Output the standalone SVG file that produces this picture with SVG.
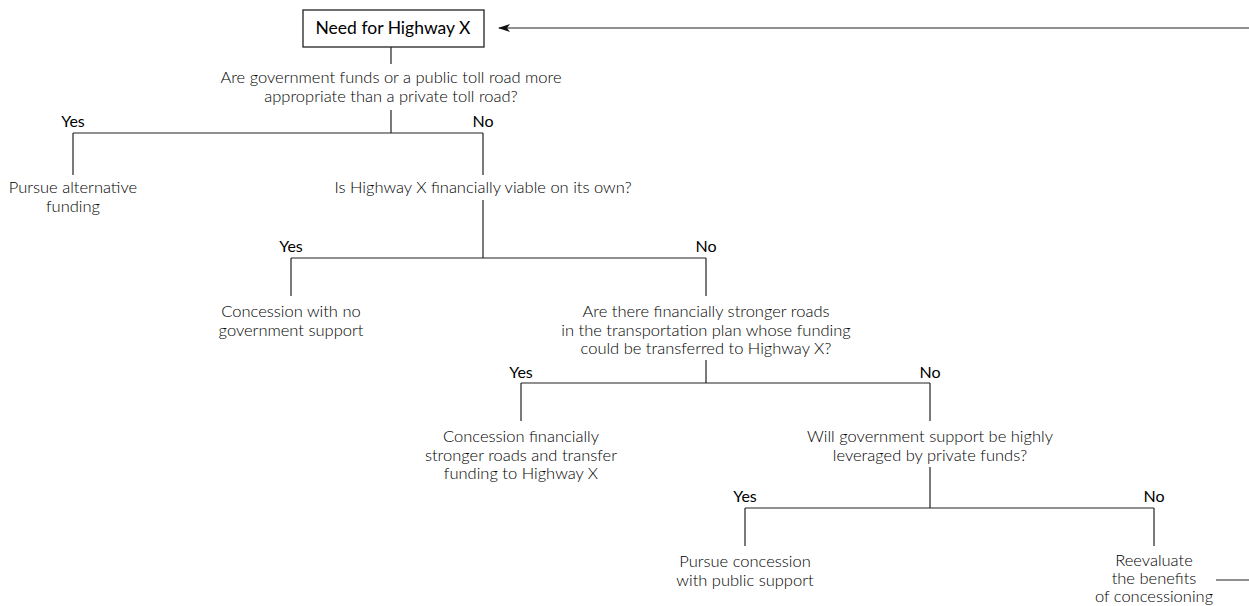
<svg xmlns="http://www.w3.org/2000/svg" width="1249" height="606" viewBox="0 0 1249 606">
<defs>
<marker id="arr" viewBox="0 0 12 10" refX="11" refY="5" markerWidth="12" markerHeight="10" markerUnits="userSpaceOnUse" orient="auto">
<path d="M0,1 L12,5 L0,9 L3,5 Z" fill="#111"/>
</marker>
<style>
.t{font-family:Lato,"Open Sans","Liberation Sans",sans-serif;font-weight:300;font-size:16.5px;fill:#000;text-anchor:middle}
.l{font-family:Lato,"Open Sans","Liberation Sans",sans-serif;font-weight:400;font-size:16px;fill:#000;text-anchor:middle}
.c{stroke:#222;stroke-width:1.2;fill:none}
.b{font-family:Lato,"Open Sans","Liberation Sans",sans-serif;font-weight:400;font-size:17.5px;fill:#000;text-anchor:middle}
</style>
</defs>
<rect width="1249" height="606" fill="#fff"/>
<g id="connectors">
<path class="c" d="M391,47 V64 M391,110 V133 M73,133 H483 M73,133 V175 M483,133 V175"/>
<path class="c" d="M483,200 V258 M291,258 H706 M291,258 V296 M706,258 V296"/>
<path class="c" d="M706,360 V383 M521,383 H930 M521,383 V421 M930,383 V421"/>
<path class="c" d="M930,467 V508 M745,508 H1154 M745,508 V546 M1154,508 V546"/>
<path class="c" d="M1216,580 H1249"/>
<path class="c" d="M1249,28 H499" marker-end="url(#arr)"/>
</g>
<g id="need">
<rect x="303" y="10" width="181" height="37" fill="#fff" stroke="#222" stroke-width="1.3"/>
<text class="b" x="393" y="34">Need for Highway X</text>
</g>
<g id="q1">
<text class="t" x="391" y="83">Are government funds or a public toll road more</text>
<text class="t" x="391" y="102">appropriate than a private toll road?</text>
<text class="l" x="73" y="127">Yes</text>
<text class="l" x="483" y="127">No</text>
</g>
<g id="alt">
<text class="t" x="73" y="193">Pursue alternative</text>
<text class="t" x="73" y="212">funding</text>
</g>
<g id="q2">
<text class="t" x="483" y="193">Is Highway X financially viable on its own?</text>
<text class="l" x="291" y="252">Yes</text>
<text class="l" x="706" y="252">No</text>
</g>
<g id="nosupport">
<text class="t" x="291" y="317">Concession with no</text>
<text class="t" x="291" y="336">government support</text>
</g>
<g id="q3">
<text class="t" x="706" y="317">Are there financially stronger roads</text>
<text class="t" x="706" y="336">in the transportation plan whose funding</text>
<text class="t" x="706" y="354">could be transferred to Highway X?</text>
<text class="l" x="521" y="378">Yes</text>
<text class="l" x="930" y="378">No</text>
</g>
<g id="transfer">
<text class="t" x="521" y="442">Concession financially</text>
<text class="t" x="521" y="461">stronger roads and transfer</text>
<text class="t" x="521" y="479">funding to Highway X</text>
</g>
<g id="q4">
<text class="t" x="930" y="442">Will government support be highly</text>
<text class="t" x="930" y="461">leveraged by private funds?</text>
<text class="l" x="745" y="502">Yes</text>
<text class="l" x="1154" y="502">No</text>
</g>
<g id="public">
<text class="t" x="745" y="567">Pursue concession</text>
<text class="t" x="745" y="586">with public support</text>
</g>
<g id="reevaluate">
<text class="t" x="1154" y="566">Reevaluate</text>
<text class="t" x="1154" y="584">the benefits</text>
<text class="t" x="1154" y="602">of concessioning</text>
</g>
</svg>
